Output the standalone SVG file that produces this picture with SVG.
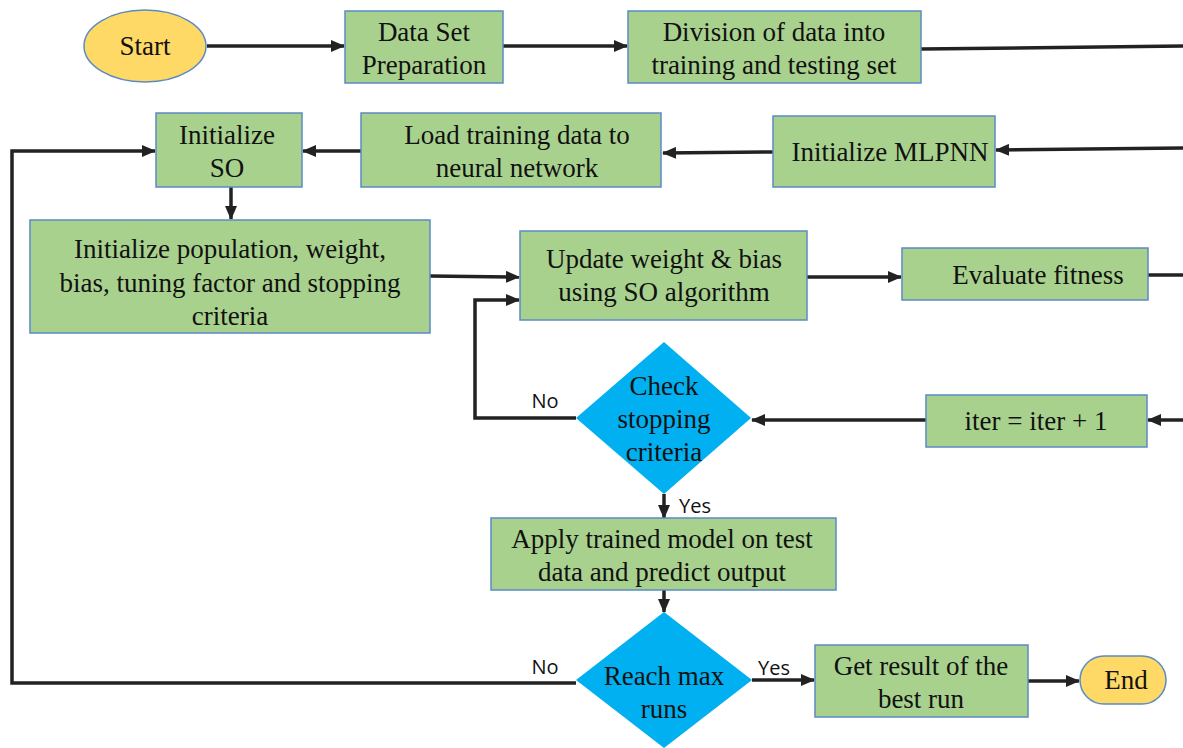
<svg xmlns="http://www.w3.org/2000/svg" width="1183" height="748" viewBox="0 0 1183 748">
  <style>
    .box { fill: #a9d18e; stroke: #5b8bc4; stroke-width: 1.5; }
    .term { fill: #ffd966; stroke: #5b8bc4; stroke-width: 1.5; }
    .dec { fill: #00b0f0; stroke: none; }
    .t { font-family: "Liberation Serif", "Times New Roman", serif; font-size: 27px; fill: #111; text-anchor: middle; }
    .lbl { font-family: "Open Sans", "Liberation Sans", sans-serif; font-size: 20px; fill: #111; text-anchor: middle; }
    .c { fill: none; stroke: #222; stroke-width: 3.5; }
  </style>
  <defs>
    <marker id="ah" markerUnits="userSpaceOnUse" markerWidth="14" markerHeight="12" refX="13" refY="6" orient="auto">
      <path d="M0,0 L14,6 L0,12 z" fill="#222"/>
    </marker>
  </defs>

  <!-- connectors -->
  <g id="connectors">
    <path class="c" d="M207,46 L344,46" marker-end="url(#ah)"/>
    <path class="c" d="M503,46 L627,46" marker-end="url(#ah)"/>
    <path class="c" d="M921,49 L1183,46"/>
    <path class="c" d="M1183,148 L996,150" marker-end="url(#ah)"/>
    <path class="c" d="M773,152 L663,153" marker-end="url(#ah)"/>
    <path class="c" d="M361,151 L303,151" marker-end="url(#ah)"/>
    <path class="c" d="M576,683 L12,683 L12,151 L155,151" marker-end="url(#ah)"/>
    <path class="c" d="M231,187 L231,219" marker-end="url(#ah)"/>
    <path class="c" d="M430,276 L519,277" marker-end="url(#ah)"/>
    <path class="c" d="M807,277 L901,277" marker-end="url(#ah)"/>
    <path class="c" d="M1148,275 L1183,275"/>
    <path class="c" d="M576,418 L475,418 L475,300 L519,300" marker-end="url(#ah)"/>
    <path class="c" d="M1183,420 L1148,420" marker-end="url(#ah)"/>
    <path class="c" d="M926,420 L752,420" marker-end="url(#ah)"/>
    <path class="c" d="M664,494 L664,518" marker-end="url(#ah)"/>
    <path class="c" d="M664,590 L664,612" marker-end="url(#ah)"/>
    <path class="c" d="M752,680 L814,680" marker-end="url(#ah)"/>
    <path class="c" d="M1028,681 L1079,681" marker-end="url(#ah)"/>
    <text class="lbl" x="545" y="408">No</text>
    <text class="lbl" x="695" y="513">Yes</text>
    <text class="lbl" x="545" y="674">No</text>
    <text class="lbl" x="774" y="675">Yes</text>
  </g>

  <g id="start">
    <ellipse class="term" cx="145" cy="46" rx="61" ry="36"/>
    <text class="t" x="145" y="55">Start</text>
  </g>
  <g id="dataset">
    <rect class="box" x="345" y="11" width="158" height="72"/>
    <text class="t" x="424" y="41">Data Set</text>
    <text class="t" x="424" y="74">Preparation</text>
  </g>
  <g id="division">
    <rect class="box" x="628" y="11" width="293" height="72"/>
    <text class="t" x="774" y="41">Division of data into</text>
    <text class="t" x="774" y="74">training and testing set</text>
  </g>
  <g id="init-mlpnn">
    <rect class="box" x="773" y="116" width="222" height="71"/>
    <text class="t" x="890" y="161">Initialize MLPNN</text>
  </g>
  <g id="load-data">
    <rect class="box" x="361" y="113" width="300" height="74"/>
    <text class="t" x="517" y="144">Load training data to</text>
    <text class="t" x="517" y="177">neural network</text>
  </g>
  <g id="init-so">
    <rect class="box" x="156" y="113" width="146" height="74"/>
    <text class="t" x="227" y="144">Initialize</text>
    <text class="t" x="227" y="177">SO</text>
  </g>
  <g id="init-pop">
    <rect class="box" x="30" y="220" width="400" height="113"/>
    <text class="t" x="230" y="258">Initialize population, weight,</text>
    <text class="t" x="230" y="292">bias, tuning factor and stopping</text>
    <text class="t" x="230" y="325">criteria</text>
  </g>
  <g id="update">
    <rect class="box" x="520" y="231" width="287" height="89"/>
    <text class="t" x="664" y="268">Update weight &amp; bias</text>
    <text class="t" x="664" y="301">using SO algorithm</text>
  </g>
  <g id="evaluate">
    <rect class="box" x="902" y="248" width="246" height="52"/>
    <text class="t" x="1038" y="284">Evaluate fitness</text>
  </g>
  <g id="check">
    <polygon class="dec" points="664,342 751,418 664,494 576,418"/>
    <text class="t" x="664" y="395">Check</text>
    <text class="t" x="664" y="428">stopping</text>
    <text class="t" x="664" y="461">criteria</text>
  </g>
  <g id="iter">
    <rect class="box" x="926" y="395" width="221" height="52"/>
    <text class="t" x="1036" y="430">iter = iter + 1</text>
  </g>
  <g id="apply">
    <rect class="box" x="491" y="518" width="345" height="72"/>
    <text class="t" x="662" y="548">Apply trained model on test</text>
    <text class="t" x="662" y="581">data and predict output</text>
  </g>
  <g id="reach">
    <polygon class="dec" points="664,612 752,680 664,748 576,680"/>
    <text class="t" x="664" y="685">Reach max</text>
    <text class="t" x="664" y="718">runs</text>
  </g>
  <g id="result">
    <rect class="box" x="815" y="645" width="213" height="72"/>
    <text class="t" x="921" y="675">Get result of the</text>
    <text class="t" x="921" y="708">best run</text>
  </g>
  <g id="end">
    <rect class="term" x="1080" y="656" width="86" height="48" rx="24"/>
    <text class="t" x="1126" y="689">End</text>
  </g>
</svg>
